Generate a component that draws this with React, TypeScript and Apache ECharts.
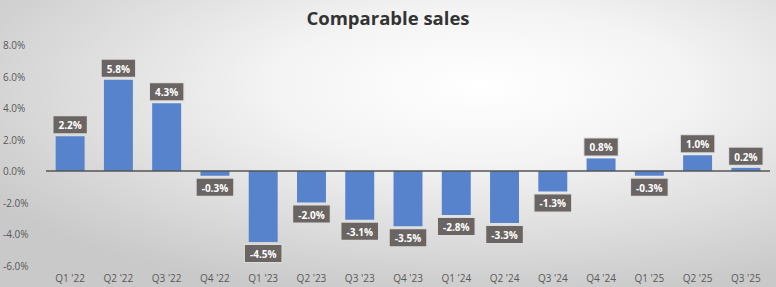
import React, { useEffect, useRef } from "react";
import * as echarts from "echarts";

const categories = ["Q1 '22", "Q2 '22", "Q3 '22", "Q4 '22", "Q1 '23", "Q2 '23", "Q3 '23", "Q4 '23", "Q1 '24", "Q2 '24", "Q3 '24", "Q4 '24", "Q1 '25", "Q2 '25", "Q3 '25"];
const comparableSales = [2.2, 5.8, 4.3, -0.3, -4.5, -2.0, -3.1, -3.5, -2.8, -3.3, -1.3, 0.8, -0.3, 1.0, 0.2];
const yMin = -6;
const yMax = 8;
const yStep = 2;

export default function App() {
  const ref = useRef<HTMLDivElement>(null);
  useEffect(() => {
    if (!ref.current) return;
    const chart = echarts.init(ref.current, null, { renderer: "svg" });
    const labelStyle = {
      show: true,
      formatter: (p: any) => p.value.toFixed(1) + "%",
      color: "#ffffff",
      fontWeight: "bold" as const,
      fontSize: 10,
      fontFamily: "Open Sans",
      backgroundColor: "#6a6462",
      borderColor: "#dcdcdc",
      borderWidth: 1,
      padding: [4, 5, 3, 5],
      distance: 3,
    };
    chart.setOption({
      animation: false,
      backgroundColor: {
        type: "radial",
        x: 0.62,
        y: 0.3,
        r: 0.75,
        colorStops: [
          { offset: 0, color: "#ffffff" },
          { offset: 0.35, color: "#f4f4f4" },
          { offset: 1, color: "#c9c9c9" },
        ],
      },
      title: {
        text: "Comparable sales",
        left: "center",
        top: 3,
        textStyle: { fontSize: 18.5, fontWeight: "bold", color: "#333333", fontFamily: "Open Sans" },
      },
      grid: { left: 38, right: 6, top: 45, bottom: 21.5, containLabel: false },
      xAxis: {
        type: "category",
        data: categories,
        axisLine: { show: true, onZero: false, lineStyle: { color: "transparent" } },
        axisTick: { show: false },
        axisLabel: { color: "#595959", fontSize: 10, fontFamily: "Open Sans", margin: 7 },
      },
      yAxis: {
        type: "value",
        min: yMin,
        max: yMax,
        interval: yStep,
        splitLine: { show: false },
        axisLine: { show: false },
        axisTick: { show: false },
        axisLabel: {
          color: "#595959",
          fontSize: 10,
          fontFamily: "Open Sans",
          margin: 10,
          align: "left",
          padding: [0, 0, 0, -33],
          formatter: (v: number) => v.toFixed(1) + "%",
        },
      },
      series: [
        {
          type: "bar",
          data: comparableSales.map((v) => ({
            value: v,
            label: { ...labelStyle, position: v >= 0 ? "top" : "bottom" },
          })),
          barWidth: "60%",
          itemStyle: { color: "#5782cc" },
          markLine: {
            silent: true,
            symbol: "none",
            label: { show: false },
            lineStyle: { color: "#555555", width: 1.5, type: "solid" },
            data: [{ yAxis: 0 }],
          },
        },
      ],
    });
    return () => chart.dispose();
  }, []);
  return <div ref={ref} style={{ width: 776, height: 287, position: "absolute", left: 0, top: 0 }} />;
}
